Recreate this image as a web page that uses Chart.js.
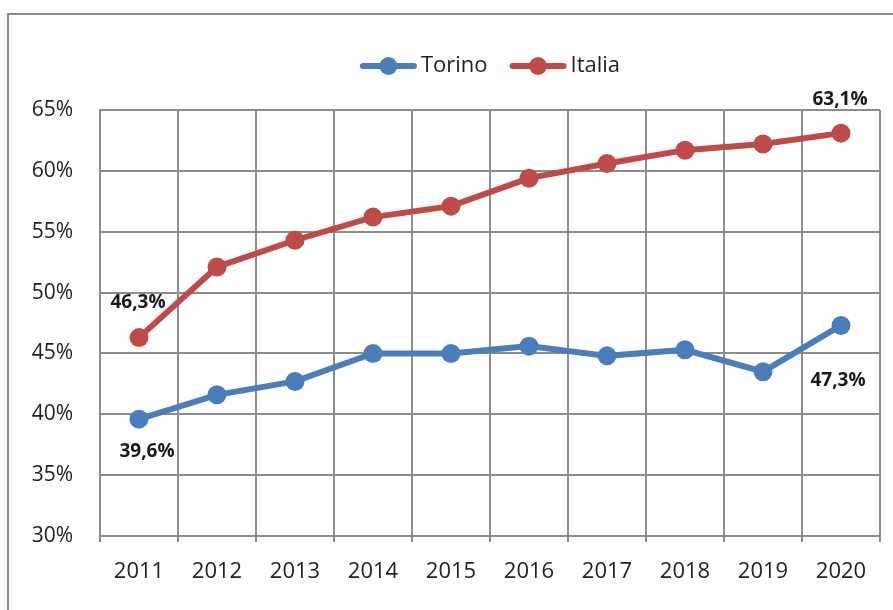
<!DOCTYPE html>
<html>
<head>
<meta charset="utf-8">
<script src="https://cdn.jsdelivr.net/npm/chart.js@4.4.1/dist/chart.umd.min.js"></script>
<style>
  html, body { margin: 0; padding: 0; background: #fff; }
  #frame {
    position: absolute; left: 7px; top: 13px;
    width: 900px; height: 620px;
    border: 2px solid #8a8a8a;
  }
  #wrap { position: absolute; left: 0; top: 0; width: 893px; height: 610px; }
</style>
</head>
<body>
<div id="frame"></div>
<div id="wrap"><canvas id="chart" width="893" height="610"></canvas></div>
<script>
const years = ['2011', '2012', '2013', '2014', '2015', '2016', '2017', '2018', '2019', '2020']
const torino = [39.6, 41.6, 42.7, 45.0, 45.0, 45.6, 44.8, 45.3, 43.5, 47.3]
const italia = [46.3, 52.1, 54.3, 56.2, 57.1, 59.4, 60.6, 61.7, 62.2, 63.1]
const yTicks = [30, 35, 40, 45, 50, 55, 60, 65]

const BLUE = '#4a7ebb'
const RED = '#be4b48'
const GRID = '#8c8c8c'

// labels on first and last point, offsets in px from the point
const pointLabels = [
  { ds: 0, i: 0, dx: 8, dy: 32 },
  { ds: 0, i: 9, dx: -3, dy: 55 },
  { ds: 1, i: 0, dx: -1, dy: -35 },
  { ds: 1, i: 9, dx: -1, dy: -34 }
]

const fmt = v => v.toFixed(1).replace('.', ',') + '%'

const labelsPlugin = {
  id: 'pointLabels',
  afterDatasetsDraw(chart) {
    const ctx = chart.ctx
    ctx.save()
    ctx.font = 'bold 19px "Open Sans"'
    ctx.fillStyle = '#1a1a1a'
    ctx.textAlign = 'center'
    ctx.textBaseline = 'middle'
    pointLabels.forEach(l => {
      const pt = chart.getDatasetMeta(l.ds).data[l.i]
      const v = chart.data.datasets[l.ds].data[l.i]
      ctx.fillText(fmt(v), pt.x + l.dx, pt.y + l.dy)
    })
    ctx.restore()
  }
}

const legendPlugin = {
  id: 'lineLegend',
  afterDraw(chart) {
    const ctx = chart.ctx
    const area = chart.chartArea
    const markW = 57, gapText = 4, gapItem = 22
    ctx.save()
    ctx.font = '22px "Open Sans"'
    const items = chart.data.datasets.map(d => ({
      text: d.label, color: d.borderColor, w: ctx.measureText(d.label).width
    }))
    const total = items.reduce((s, it) => s + markW + gapText + it.w, 0) + gapItem * (items.length - 1)
    let x = (area.left + area.right) / 2 - total / 2
    const y = 66
    items.forEach(it => {
      ctx.strokeStyle = it.color
      ctx.lineWidth = 6
      ctx.lineCap = 'round'
      ctx.beginPath()
      ctx.moveTo(x + 3, y)
      ctx.lineTo(x + markW - 3, y)
      ctx.stroke()
      ctx.fillStyle = it.color
      ctx.beginPath()
      ctx.arc(x + markW / 2, y, 9, 0, Math.PI * 2)
      ctx.fill()
      ctx.fillStyle = '#222'
      ctx.textAlign = 'left'
      ctx.textBaseline = 'middle'
      ctx.fillText(it.text, x + markW + gapText, y)
      x += markW + gapText + it.w + gapItem
    })
    ctx.restore()
  }
}

new Chart(document.getElementById('chart').getContext('2d'), {
  type: 'line',
  data: {
    labels: years,
    datasets: [
      {
        label: 'Torino',
        data: torino,
        borderColor: BLUE,
        backgroundColor: BLUE,
        borderWidth: 6,
        pointRadius: 9.5,
        pointBorderWidth: 0,
        tension: 0,
        fill: false
      },
      {
        label: 'Italia',
        data: italia,
        borderColor: RED,
        backgroundColor: RED,
        borderWidth: 6,
        pointRadius: 9.5,
        pointBorderWidth: 0,
        tension: 0,
        fill: false
      }
    ]
  },
  options: {
    responsive: false,
    animation: false,
    layout: { padding: { top: 110, right: 13, bottom: 0, left: 0 } },
    plugins: {
      legend: { display: false },
      tooltip: { enabled: false }
    },
    scales: {
      x: {
        offset: true,
        grid: { offset: true, color: GRID, lineWidth: 2, tickLength: 6, drawTicks: true },
        border: { display: true, color: GRID, width: 2 },
        ticks: { color: '#222', font: { family: 'Open Sans', size: 22 }, padding: 17, maxRotation: 0 },
        afterFit: s => { s.height = 74 }
      },
      y: {
        min: 30,
        max: 65,
        afterBuildTicks: s => { s.ticks = yTicks.map(v => ({ value: v })) },
        grid: { color: GRID, lineWidth: 2, drawTicks: false },
        border: { display: true, color: GRID, width: 2 },
        ticks: {
          color: '#222',
          font: { family: 'Open Sans', size: 21 },
          padding: 27,
          callback: v => v + '%'
        },
        afterFit: s => { s.width = 100 }
      }
    }
  },
  plugins: [labelsPlugin, legendPlugin]
})
</script>
</body>
</html>
